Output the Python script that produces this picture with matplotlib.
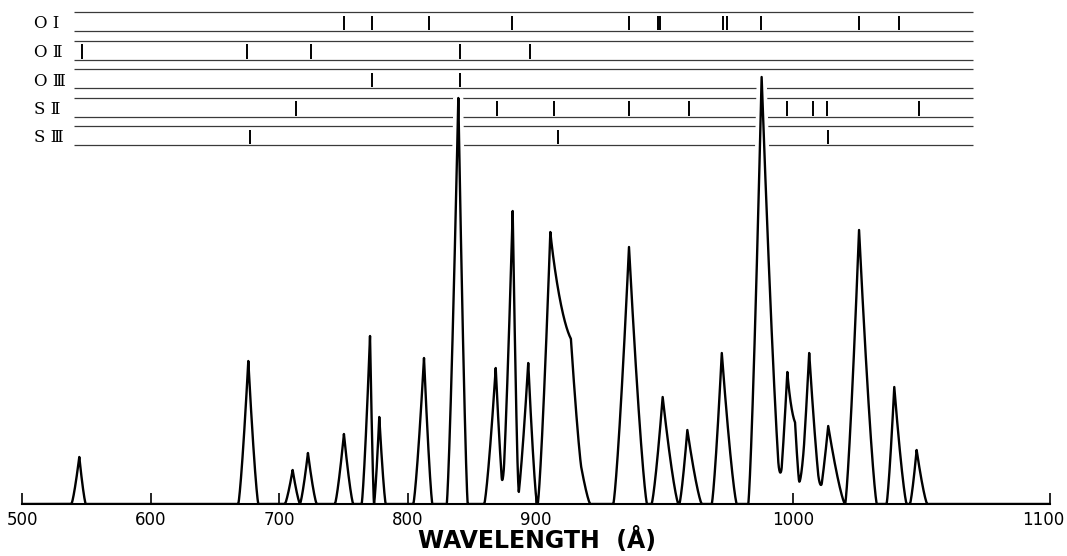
import numpy as np
import matplotlib
matplotlib.use("Agg")
import matplotlib.pyplot as plt
from matplotlib.transforms import ScaledTranslation

# ---------------- data ----------------
# emission features: centre wavelength (Å), peak height (arb.), half-base widths left/right (Å)
peak_wl = [544.5, 676.0, 710.5, 722.4, 750.4, 770.7, 777.9, 812.7, 839.4,
           868.5, 881.7, 893.8, 905.5, 913.5, 936.1, 949.2, 958.8, 972.2,
           987.7, 997.7, 1000.7, 1006.2, 1013.6, 1025.6, 1039.3, 1048.0]
peak_height = [47, 143, 34, 51, 70, 168, 87, 146, 406,
               136, 293, 141, 272, 100, 257, 107, 74, 151,
               427, 132, 50, 151, 78, 274, 117, 54]
peak_left = [6.1, 7.8, 6.0, 6.2, 7.0, 6.5, 4.1, 8.3, 9.0,
             8.9, 8.5, 8.6, 4.9, 8.0, 6.1, 4.3, 3.1, 3.9,
             5.2, 3.5, 3.0, 3.9, 3.9, 5.4, 3.0, 2.6]
peak_right = [5.0, 7.8, 5.7, 6.8, 7.2, 3.1, 5.0, 6.5, 7.3,
              6.5, 4.8, 6.8, 12.0, 7.5, 7.0, 6.1, 5.6, 5.8,
              7.8, 4.5, 3.5, 4.9, 6.5, 6.9, 4.8, 4.1]

# line identifications per ion (Å)
ion_labels = ["O I", "O \u2161", "O \u2162", "S \u2161", "S \u2162"]
lines_OI = [750.4, 772.0, 816.6, 881.4, 936.2, 947.5, 948.3, 972.6, 974.3,
            987.5, 1025.7, 1041.2]
lines_OII = [546.6, 675.0, 724.8, 840.7, 895.2]
lines_OIII = [772.0, 840.7]
lines_SII = [713.1, 869.3, 906.9, 936.2, 959.6, 997.7, 1007.8, 1013.2, 1048.9]
lines_SIII = [677.3, 908.4, 1013.4]
ion_lines = [lines_OI, lines_OII, lines_OIII, lines_SII, lines_SIII]

xticks = [500, 600, 700, 800, 900, 1000, 1100]
xticklabels = ["500", "600", "700", "800", "900", "1000", "1100"]

# ---------------- helpers ----------------
BREAK = 900.0
STRETCH = 2.0


def fwd(x):
    x = np.asarray(x, dtype=float)
    return np.where(x <= BREAK, x, BREAK + STRETCH * (x - BREAK))


def inv(u):
    u = np.asarray(u, dtype=float)
    return np.where(u <= BREAK, u, BREAK + (u - BREAK) / STRETCH)


Q = 1.3
wl = np.linspace(500, 1100, 12001)
spec = np.zeros_like(wl)
for c, h, lw_, rw_ in zip(peak_wl, peak_height, peak_left, peak_right):
    d = wl - c
    b = np.where(d < 0, lw_, rw_)
    t = np.clip(1 - np.abs(d) / b, 0, 1)
    spec += h * t ** Q

# ---------------- figure ----------------
W, H = 1067, 556
fig = plt.figure(figsize=(W / 100, H / 100), dpi=100)
ax = fig.add_axes([22.1 / W, 52 / H, 1028.2 / W, 504 / H])
ax.set_xscale("function", functions=(fwd, inv))
ax.set_xlim(500, 1100)
ax.set_ylim(0, 504)

# identification rows
row_top0, row_pitch, row_h = 492.0, 28.5, 19.0
for i, (lab, lines) in enumerate(zip(ion_labels, ion_lines)):
    top = row_top0 - i * row_pitch
    bot = top - row_h
    ax.hlines([top, bot], 540, 1070, color="#3a3a3a", lw=0.9, zorder=1)
    ax.vlines(lines, bot + 1, top - 3.5, color="black", lw=1.4, zorder=1)
    ax.text(509, (top + bot) / 2 - 2.5, lab, fontsize=12,
            family=["DejaVu Serif", "DejaVu Sans"], ha="left", va="center")

# white halo behind tall peaks to break the row lines
halo = np.where(spec > 330, spec, np.nan)
ax.plot(wl, halo, color="white", lw=7, solid_capstyle="butt", zorder=2)

# spectrum
ax.plot(wl, spec, color="black", lw=1.7, solid_joinstyle="round", zorder=3)

for s in ["left", "right", "top"]:
    ax.spines[s].set_visible(False)
ax.spines["bottom"].set_linewidth(1.5)
ax.set_yticks([])
ax.set_xticks(xticks)
ax.set_xticklabels(xticklabels)
ax.xaxis.set_minor_locator(matplotlib.ticker.NullLocator())
ax.tick_params(axis="x", direction="in", length=8, width=1.2, pad=5,
               labelsize=12)
# keep the last label inside the canvas
last = ax.get_xticklabels()[-1]
last.set_transform(last.get_transform() +
                   ScaledTranslation(-5 / 72, 0, fig.dpi_scale_trans))

fig.text(537 / W, 1 - 540 / H, "WAVELENGTH  (\u00c5)", fontsize=17,
         fontweight="bold", ha="center", va="center")

fig.savefig("out.png", dpi=100)
